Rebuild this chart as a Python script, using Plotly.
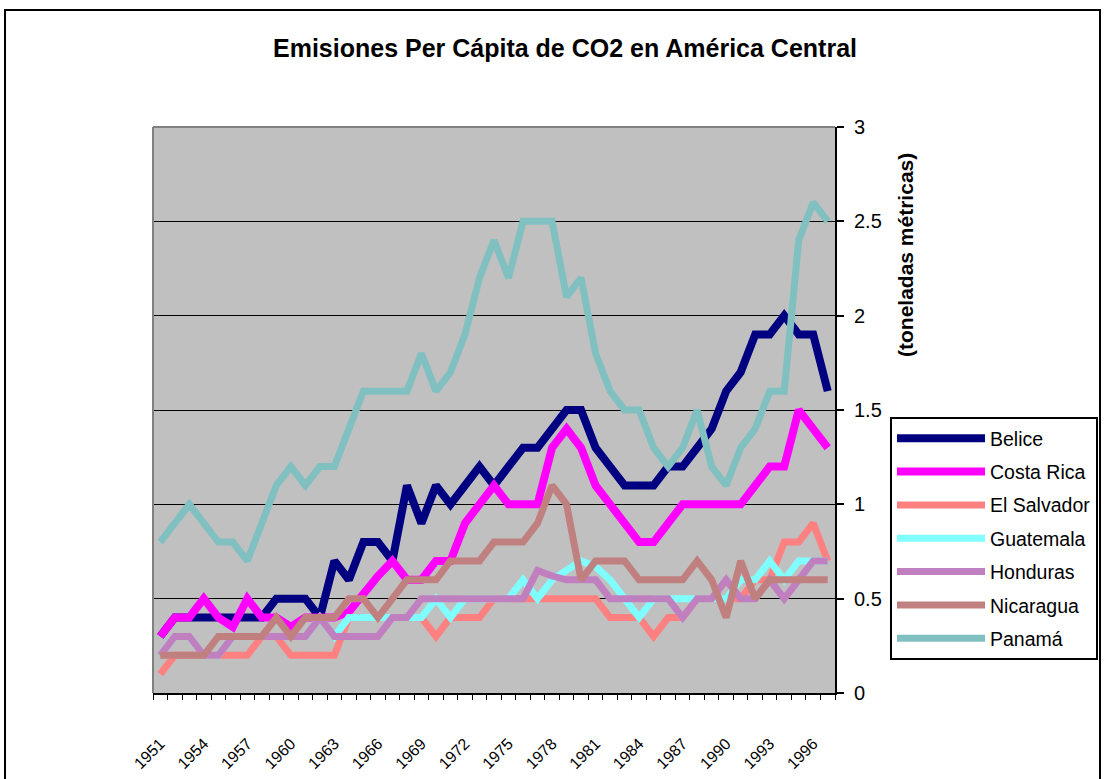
import plotly.graph_objects as go

years = list(range(1951, 1998))

belice = [0.3,0.4,0.4,0.4,0.4,0.4,0.4,0.4,0.5,0.5,0.5,0.4,0.7,0.6,0.8,0.8,0.7,1.1,0.9,1.1,
          1.0,1.1,1.2,1.1,1.2,1.3,1.3,1.4,1.5,1.5,1.3,1.2,1.1,1.1,1.1,1.2,1.2,1.3,1.4,1.6,
          1.7,1.9,1.9,2.0,1.9,1.9,1.6]
costa_rica = [0.3,0.4,0.4,0.5,0.4,0.35,0.5,0.4,0.4,0.35,0.4,0.4,0.4,0.43,0.53,0.62,0.7,0.6,0.6,0.7,
              0.7,0.9,1.0,1.1,1.0,1.0,1.0,1.3,1.4,1.3,1.1,1.0,0.9,0.8,0.8,0.9,1.0,1.0,1.0,1.0,
              1.0,1.1,1.2,1.2,1.5,1.4,1.3]
el_salvador = [0.1,0.2,0.2,0.2,0.2,0.2,0.2,0.3,0.3,0.2,0.2,0.2,0.2,0.4,0.4,0.4,0.4,0.4,0.4,0.3,
               0.4,0.4,0.4,0.5,0.5,0.5,0.5,0.5,0.5,0.5,0.5,0.4,0.4,0.4,0.3,0.4,0.4,0.5,0.5,0.5,
               0.5,0.6,0.6,0.8,0.8,0.9,0.7]
guatemala = [0.2,0.3,0.3,0.2,0.2,0.3,0.3,0.3,0.3,0.3,0.3,0.4,0.3,0.4,0.4,0.4,0.4,0.4,0.4,0.5,
             0.4,0.5,0.5,0.5,0.5,0.6,0.5,0.6,0.65,0.7,0.67,0.6,0.5,0.4,0.5,0.5,0.5,0.5,0.5,0.5,
             0.6,0.6,0.7,0.6,0.7,0.7,0.7]
honduras = [0.2,0.3,0.3,0.2,0.2,0.3,0.3,0.3,0.3,0.3,0.3,0.4,0.3,0.3,0.3,0.3,0.4,0.4,0.5,0.5,
            0.5,0.5,0.5,0.5,0.5,0.5,0.65,0.62,0.6,0.6,0.6,0.5,0.5,0.5,0.5,0.5,0.4,0.5,0.5,0.6,
            0.5,0.5,0.6,0.5,0.6,0.7,0.7]
nicaragua = [0.2,0.2,0.2,0.2,0.3,0.3,0.3,0.3,0.4,0.3,0.4,0.4,0.4,0.5,0.5,0.4,0.5,0.6,0.6,0.6,
             0.7,0.7,0.7,0.8,0.8,0.8,0.9,1.1,1.0,0.6,0.7,0.7,0.7,0.6,0.6,0.6,0.6,0.7,0.6,0.4,
             0.7,0.5,0.6,0.6,0.6,0.6,0.6]
panama = [0.8,0.9,1.0,0.9,0.8,0.8,0.7,0.9,1.1,1.2,1.1,1.2,1.2,1.4,1.6,1.6,1.6,1.6,1.8,1.6,
          1.7,1.9,2.2,2.4,2.2,2.5,2.5,2.5,2.1,2.2,1.8,1.6,1.5,1.5,1.3,1.2,1.3,1.5,1.2,1.1,
          1.3,1.4,1.6,1.6,2.4,2.6,2.5]

series_names = ["Belice", "Costa Rica", "El Salvador", "Guatemala", "Honduras", "Nicaragua", "Panamá"]
series_values = [belice, costa_rica, el_salvador, guatemala, honduras, nicaragua, panama]
series_colors = ["#000080", "#FF00FF", "#FF8080", "#80FFFF", "#C080C0", "#C08080", "#80C0C0"]
series_widths = [8, 8, 7, 7, 7, 7, 7]

tick_years = years[0:46:3]

title_text = "Emisiones Per Cápita de CO2 en América Central"
ytitle_text = "(toneladas métricas)"

FONT = "Liberation Sans, Arial, sans-serif"

fig = go.Figure()
for name, vals, col, w in zip(series_names, series_values, series_colors, series_widths):
    fig.add_trace(go.Scatter(
        x=years, y=vals, name=name, mode="lines",
        line=dict(color=col, width=w),
        legendgroup=name,
    ))

W, H = 1107, 779
L, R, T, B = 153, 835, 127, 693
pw, ph = R - L, B - T

def px_x(x):
    return (x - L) / pw

def px_y(y):
    return (B - y) / ph

def cx(x):
    return x / W

def cy(y):
    return 1 - y / H

fig.update_layout(
    width=W, height=H,
    margin=dict(l=L, r=W - R, t=T, b=H - B, pad=0),
    paper_bgcolor="white",
    plot_bgcolor="#C0C0C0",
    font=dict(family=FONT, color="black"),
    title=dict(text="<b>" + title_text + "</b>", x=cx(565), xanchor="center",
               y=cy(48), yanchor="middle", xref="container", yref="container",
               font=dict(size=25, family=FONT, color="black")),
    showlegend=True,
    legend=dict(x=cx(890), y=cy(417), xref="container", yref="container",
                xanchor="left", yanchor="top",
                bgcolor="white", bordercolor="black", borderwidth=2,
                font=dict(size=19.5, family=FONT, color="black"),
                itemwidth=88, tracegroupgap=5, traceorder="grouped"),
    xaxis=dict(
        range=[1950.5, 1997.5], automargin=False,
        tickmode="array", tickvals=tick_years, ticktext=[str(y) for y in tick_years],
        tickangle=-45, ticks="", showgrid=False, zeroline=False,
        showline=True, linecolor="black", linewidth=2,
        tickfont=dict(size=16, family=FONT, color="black"),
        ticklabelstandoff=33,
        minor=dict(tick0=1950.5, dtick=1, ticks="outside", ticklen=5,
                   tickcolor="black", tickwidth=1, showgrid=False),
    ),
    yaxis=dict(
        range=[0, 3], dtick=0.5, side="right", automargin=False,
        showgrid=True, gridcolor="black", gridwidth=1, zeroline=False,
        showline=True, linecolor="black", linewidth=2,
        ticks="outside", ticklen=7, tickcolor="black", tickwidth=2,
        ticklabelstandoff=6,
        tickfont=dict(size=20, family=FONT, color="black"),
    ),
    shapes=[
        dict(type="line", xref="paper", yref="paper", x0=0, x1=1, y0=1, y1=1,
             line=dict(color="#808080", width=2), layer="above"),
        dict(type="line", xref="paper", yref="paper", x0=0, x1=0, y0=0, y1=1,
             line=dict(color="#808080", width=2), layer="above"),
        dict(type="rect", xref="paper", yref="paper",
             x0=px_x(5), x1=px_x(1100), y0=px_y(800), y1=px_y(10),
             line=dict(color="black", width=2), fillcolor="rgba(0,0,0,0)", layer="above"),
    ],
    annotations=[
        dict(text="<b>" + ytitle_text + "</b>", textangle=-90, showarrow=False,
             xref="paper", yref="paper", x=px_x(905), y=px_y(255),
             xanchor="center", yanchor="middle",
             font=dict(size=21, family=FONT, color="black")),
    ],
)

fig.write_html(
    "out.html",
    config={"displayModeBar": False},
    post_script="document.body.style.margin='0px';document.body.style.overflow='hidden';",
)
